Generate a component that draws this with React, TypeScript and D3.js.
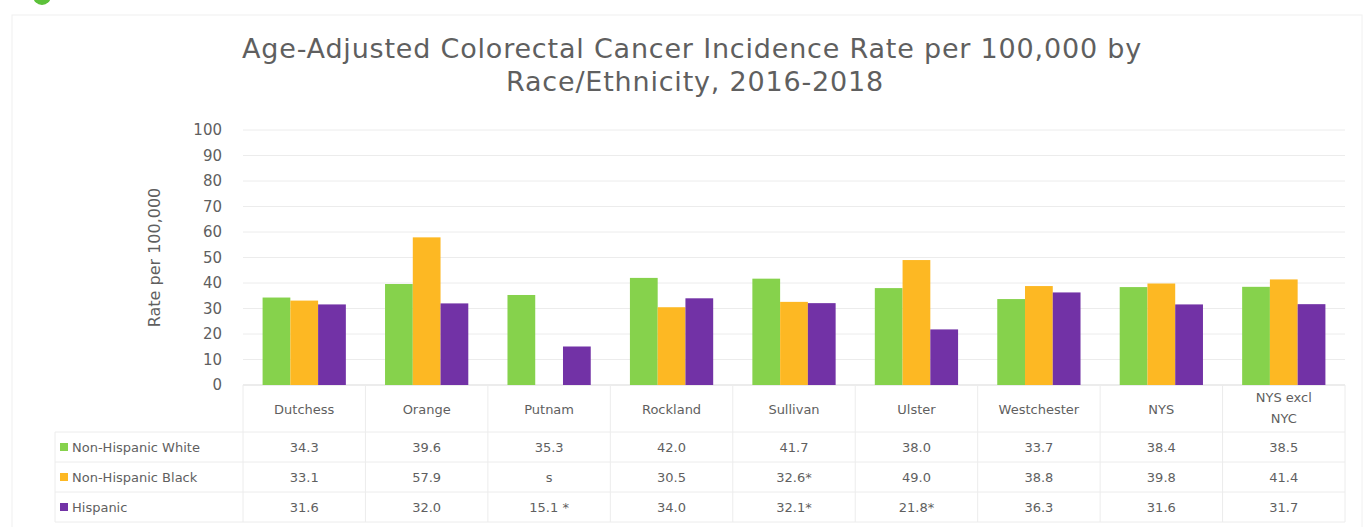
import React from 'react';
import * as d3 from 'd3';

const categories = ['Dutchess', 'Orange', 'Putnam', 'Rockland', 'Sullivan', 'Ulster', 'Westchester', 'NYS', 'NYS excl NYC'];
const categoryLines = [['Dutchess'], ['Orange'], ['Putnam'], ['Rockland'], ['Sullivan'], ['Ulster'], ['Westchester'], ['NYS'], ['NYS excl', 'NYC']];

const seriesNames = ['Non-Hispanic White', 'Non-Hispanic Black', 'Hispanic'];
const seriesColors = ['#86d24c', '#fdb823', '#7232a6'];

const whiteValues: (number | null)[] = [34.3, 39.6, 35.3, 42.0, 41.7, 38.0, 33.7, 38.4, 38.5];
const blackValues: (number | null)[] = [33.1, 57.9, null, 30.5, 32.6, 49.0, 38.8, 39.8, 41.4];
const hispanicValues: (number | null)[] = [31.6, 32.0, 15.1, 34.0, 32.1, 21.8, 36.3, 31.6, 31.7];

const whiteLabels = ['34.3', '39.6', '35.3', '42.0', '41.7', '38.0', '33.7', '38.4', '38.5'];
const blackLabels = ['33.1', '57.9', 's', '30.5', '32.6*', '49.0', '38.8', '39.8', '41.4'];
const hispanicLabels = ['31.6', '32.0', '15.1 *', '34.0', '32.1*', '21.8*', '36.3', '31.6', '31.7'];

const yTicks = [0, 10, 20, 30, 40, 50, 60, 70, 80, 90, 100];

const W = 1364;
const H = 527;
const plotLeft = 243;
const plotRight = 1345;
const plotTop = 130;
const plotBottom = 385;
const textColor = '#5f5f5f';
const font = '"DejaVu Sans", sans-serif';

export default function App() {
  const seriesValues = [whiteValues, blackValues, hispanicValues];
  const seriesLabels = [whiteLabels, blackLabels, hispanicLabels];

  const y = d3.scaleLinear().domain([0, 100]).range([plotBottom, plotTop]);
  const x0 = d3.scaleBand<string>().domain(categories).range([plotLeft, plotRight]).paddingInner(0.32).paddingOuter(0.16);
  const x1 = d3.scaleBand<string>().domain(seriesNames).range([0, x0.bandwidth()]);
  const col = d3.scaleBand<string>().domain(categories).range([plotLeft, plotRight]);

  const rowY = [432, 462, 492, 522];
  const tableLeft = 55;

  return (
    <svg width={W} height={H} style={{ position: 'absolute', left: 0, top: 0, background: '#fff' }}>
      <rect x={12} y={15} width={W - 14} height={H - 10} fill="none" stroke="#f0f0f0" />
      <circle cx={42} cy={-4} r={9} fill="#5cc13a" />

      <text x={692} y={58} textAnchor="middle" fontFamily={font} fontSize={27} letterSpacing={0.8} fill={textColor}>
        Age-Adjusted Colorectal Cancer Incidence Rate per 100,000 by
      </text>
      <text x={695} y={91} textAnchor="middle" fontFamily={font} fontSize={27} letterSpacing={0.8} fill={textColor}>
        Race/Ethnicity, 2016-2018
      </text>

      {yTicks.map(t => (
        <g key={t}>
          <line x1={plotLeft} x2={plotRight} y1={y(t)} y2={y(t)} stroke={t === 0 ? '#d9d9d9' : '#ececec'} />
          <text x={222} y={y(t)} dy="0.35em" textAnchor="end" fontFamily={font} fontSize={15} fill={textColor}>{t}</text>
        </g>
      ))}

      <text transform={`translate(160,${(plotTop + plotBottom) / 2}) rotate(-90)`} textAnchor="middle" fontFamily={font} fontSize={16} fill={textColor}>
        Rate per 100,000
      </text>

      {categories.map((c, i) => (
        <g key={c} transform={`translate(${x0(c)},0)`}>
          {seriesNames.map((s, j) => {
            const v = seriesValues[j][i];
            if (v == null) return null;
            return <rect key={s} x={x1(s)} y={y(v)} width={x1.bandwidth()} height={plotBottom - y(v)} fill={seriesColors[j]} />;
          })}
        </g>
      ))}

      {/* data table */}
      {rowY.map((ry, k) => (
        <line key={k} x1={tableLeft} x2={plotRight} y1={ry} y2={ry} stroke="#ececec" />
      ))}
      <line x1={tableLeft} x2={tableLeft} y1={rowY[0]} y2={rowY[3]} stroke="#ececec" />
      {categories.map(c => (
        <line key={c} x1={col(c)} x2={col(c)} y1={plotBottom} y2={rowY[3]} stroke="#ececec" />
      ))}
      <line x1={plotRight} x2={plotRight} y1={plotBottom} y2={rowY[3]} stroke="#ececec" />

      {categories.map((c, i) => {
        const cx = (col(c) as number) + col.bandwidth() / 2;
        const lines = categoryLines[i];
        return (
          <g key={c}>
            {lines.map((ln, k) => (
              <text key={k} x={cx} y={lines.length === 1 ? 414 : 402 + k * 21} textAnchor="middle" fontFamily={font} fontSize={13} fill={textColor}>{ln}</text>
            ))}
            {seriesLabels.map((labels, j) => (
              <text key={j} x={cx} y={(rowY[j] + rowY[j + 1]) / 2} dy="0.35em" textAnchor="middle" fontFamily={font} fontSize={13} fill={textColor}>{labels[i]}</text>
            ))}
          </g>
        );
      })}

      {seriesNames.map((s, j) => {
        const cy = (rowY[j] + rowY[j + 1]) / 2;
        return (
          <g key={s}>
            <rect x={60} y={cy - 4} width={8} height={8} fill={seriesColors[j]} />
            <text x={72} y={cy} dy="0.35em" fontFamily={font} fontSize={13} fill={textColor}>{s}</text>
          </g>
        );
      })}
    </svg>
  );
}
